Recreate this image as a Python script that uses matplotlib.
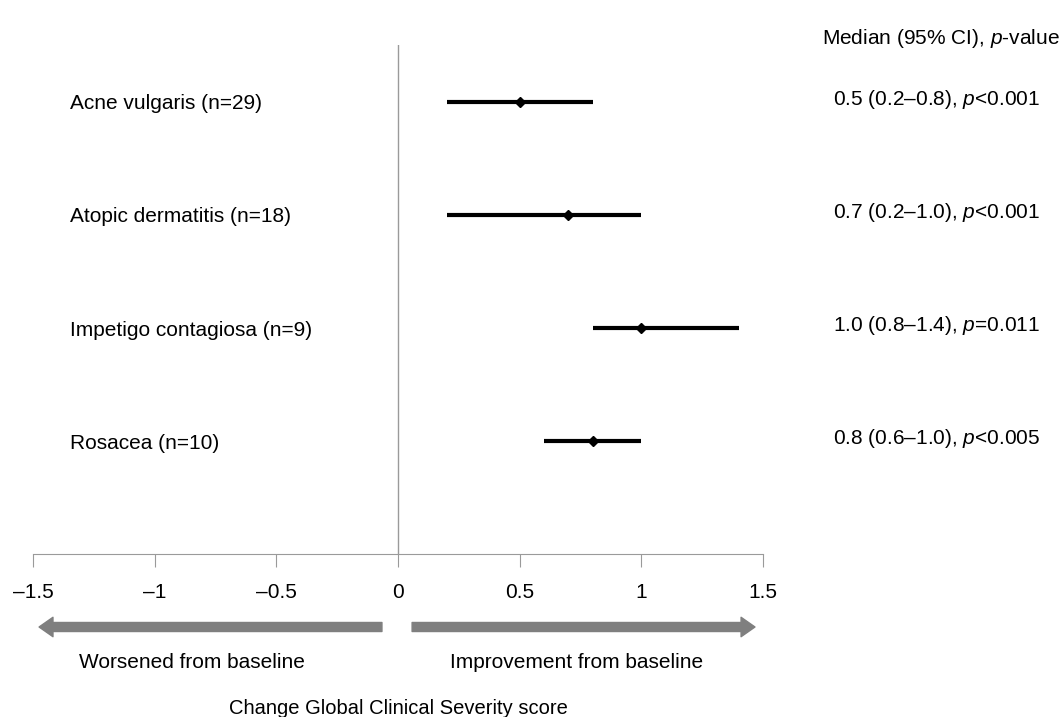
import matplotlib
matplotlib.use("Agg")
import matplotlib.pyplot as plt
import matplotlib.transforms as mtransforms

plt.rcParams["font.family"] = ["Liberation Sans", "DejaVu Sans"]
plt.rcParams["mathtext.fontset"] = "custom"
plt.rcParams["mathtext.rm"] = "Liberation Sans"
plt.rcParams["mathtext.it"] = "Liberation Sans:italic"

# Data
conditions = ["Acne vulgaris (n=29)", "Atopic dermatitis (n=18)",
              "Impetigo contagiosa (n=9)", "Rosacea (n=10)"]
medians = [0.5, 0.7, 1.0, 0.8]
ci_low = [0.2, 0.2, 0.8, 0.6]
ci_high = [0.8, 1.0, 1.4, 1.0]
p_texts = ["<0.001", "<0.001", "=0.011", "<0.005"]
x_ticks = [-1.5, -1, -0.5, 0, 0.5, 1, 1.5]
x_tick_labels = ["\u20131.5", "\u20131", "\u20130.5", "0", "0.5", "1", "1.5"]

fs = 15
fig = plt.figure(figsize=(10.62, 7.17), dpi=100)
ax = fig.add_axes([33 / 1062, 1 - 554 / 717, 730 / 1062, (554 - 45) / 717])

grey = "#9a9a9a"
row_trans = mtransforms.blended_transform_factory(fig.transFigure, ax.transData)

#Draw CI lines and median markers
for i in range(len(conditions)):
    ax.plot([ci_low[i], ci_high[i]], [i, i], color="black", lw=3,
            solid_capstyle="butt", zorder=3)
    ax.plot(medians[i], i, marker="D", color="black", markersize=5.5, zorder=4)

    #Condition label on the left
    ax.text(70 / 1062, i + 0.02, conditions[i], transform=row_trans,
            ha="left", va="center", fontsize=fs)

    #Median text on the right
    label = f"{medians[i]:.1f} ({ci_low[i]:.1f}\u2013{ci_high[i]:.1f}), $p${p_texts[i]}"
    ax.text(1040 / 1062, i - 0.02, label, transform=row_trans,
            ha="right", va="center", fontsize=fs)

ax.axvline(0, color=grey, lw=1)

ax.set_xlim(-1.5, 1.5)
ax.set_ylim(4.0, -0.5)
ax.set_xticks(x_ticks)
ax.set_xticklabels(x_tick_labels, fontsize=fs)
ax.set_yticks([])
for side in ["top", "left", "right"]:
    ax.spines[side].set_visible(False)
ax.spines["bottom"].set_color(grey)
ax.tick_params(axis="x", direction="out", length=9, color=grey, pad=12)

fig.text(1060 / 1062, 1 - 39 / 717, "Median (95% CI), $p$-value",
         ha="right", va="center", fontsize=fs)

#Arrows under the axis
trans = mtransforms.blended_transform_factory(ax.transData, fig.transFigure)
arrow_y = 1 - 627 / 717
arrow_style = dict(arrowstyle="simple,head_width=1.4,head_length=1.0,tail_width=0.65",
                   color="#7f7f7f", shrinkA=0, shrinkB=0, mutation_scale=10)
ax.annotate("", xy=(-1.475, arrow_y), xytext=(-0.066, arrow_y),
            xycoords=trans, textcoords=trans, arrowprops=arrow_style)
ax.annotate("", xy=(1.467, arrow_y), xytext=(0.058, arrow_y),
            xycoords=trans, textcoords=trans, arrowprops=arrow_style)

fig.text(192 / 1062, 1 - 663 / 717, "Worsened from baseline",
         ha="center", va="center", fontsize=fs)
fig.text(577 / 1062, 1 - 663 / 717, "Improvement from baseline",
         ha="center", va="center", fontsize=fs)
fig.text(398 / 1062, 1 - 709 / 717, "Change Global Clinical Severity score",
         ha="center", va="center", fontsize=14.5)

fig.savefig("out.png", dpi=100)
